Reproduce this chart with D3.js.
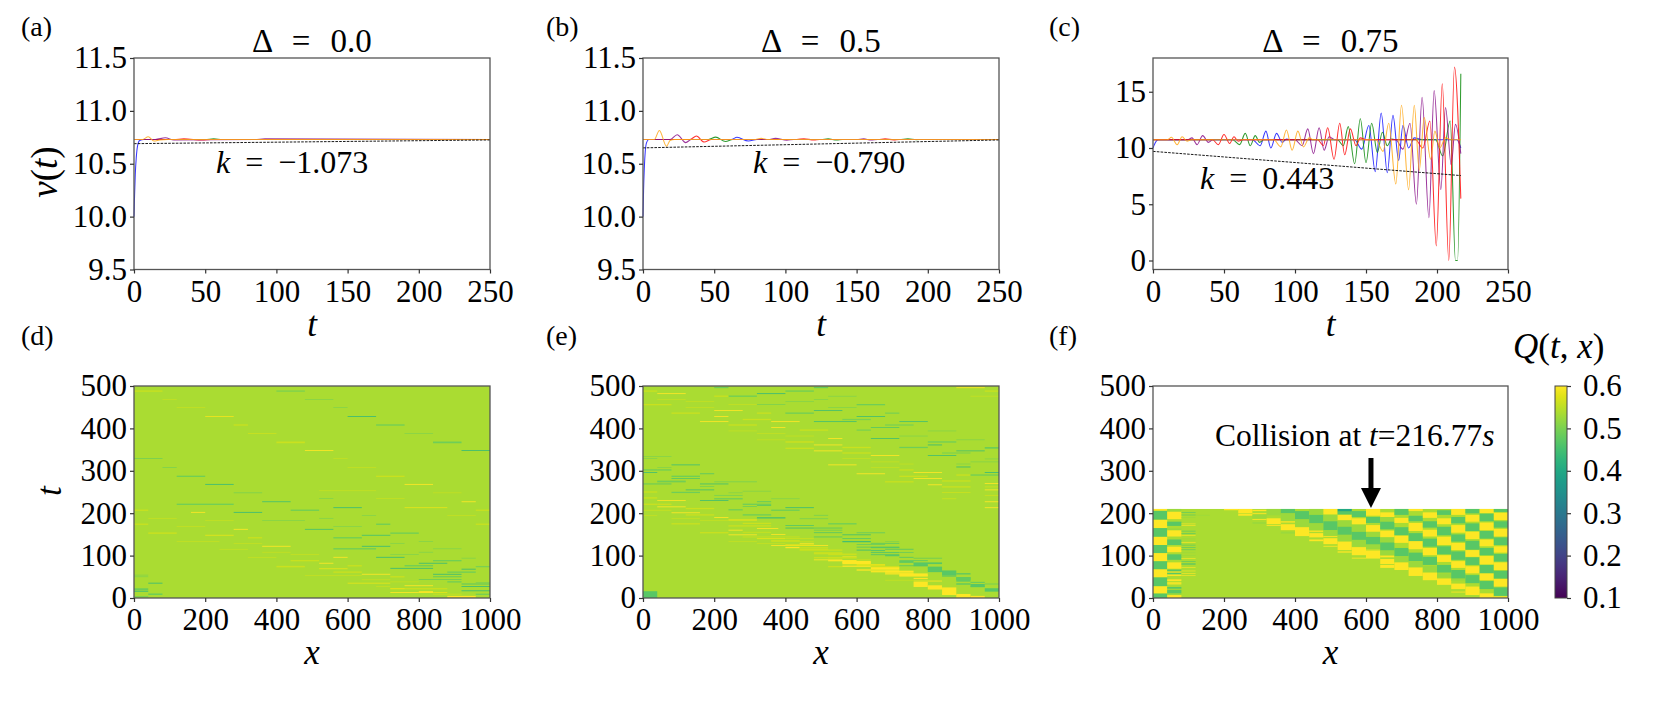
<!DOCTYPE html>
<html><head><meta charset="utf-8">
<script src="https://d3js.org/d3.v7.min.js"></script>
<style>
html,body{margin:0;padding:0;background:#fff}
svg{display:block}
text{font-family:"Liberation Serif",serif;fill:#000}
.axis path,.axis line{stroke:#333;stroke-width:1.2}
.axis text{font-family:"Liberation Serif",serif;font-size:31px;fill:#000}
</style></head><body><div id="c"></div>
<script>
// ---------- data ----------
const vTicksAB=[9.5,10,10.5,11,11.5];
const vTicksC=[0,5,10,15];
const tTicks=[0,50,100,150,200,250];
const heatXTicks=[0,200,400,600,800,1000];
const heatYTicks=[0,100,200,300,400,500];
const qTicks=[0.1,0.2,0.3,0.4,0.5,0.6];
const vColors={blue:"#1515ff",green:"#0a8a0a",red:"#ff0d0d",purple:"#8a108a",orange:"#ffa818"};

const aBlue=[[0,10],[0.4,10.2],[0.9,10.4],[1.6,10.56],[2.5,10.67],[4,10.72],[7,10.73],[250,10.73]];
const aGreen=[[0,10.73],[50,10.73],[56,10.735],[62,10.73],[250,10.73]];
const aRed=[[0,10.73],[28,10.73],[35,10.735],[48,10.725],[54,10.73],[250,10.73]];
const aPurple=[[0,10.73],[15,10.73],[22,10.745],[28,10.725],[85,10.73],[92,10.735],[250,10.73]];
const aOrange=[[0,10.73],[6,10.73],[10,10.755],[14,10.715],[18,10.725],[24,10.73],[250,10.73]];
const aFit=[[0,10.69],[250,10.725]];

const bBlue=[[0,10],[0.4,10.25],[0.9,10.45],[1.6,10.62],[2.5,10.7],[4,10.73],[62,10.73],[66,10.75],[74,10.715],[80,10.73],[250,10.73]];
const bGreen=[[0,10.73],[46,10.73],[51,10.752],[58,10.71],[63,10.73],[125,10.73],[130,10.735],[136,10.725],[140,10.73],[180,10.73],[186,10.735],[192,10.727],[196,10.73],[250,10.73]];
const bRed=[[0,10.73],[33,10.73],[37.5,10.762],[43,10.705],[48,10.73],[108,10.73],[113,10.737],[120,10.724],[124,10.73],[165,10.73],[170,10.735],[176,10.726],[180,10.73],[250,10.73]];
const bPurple=[[0,10.73],[19,10.73],[24,10.775],[30,10.7],[34,10.73],[88,10.73],[93,10.74],[101,10.722],[106,10.73],[150,10.73],[155,10.735],[160,10.725],[165,10.73],[250,10.73]];
const bOrange=[[0,10.73],[8,10.73],[11.5,10.815],[16.5,10.665],[19,10.72],[22,10.73],[78,10.73],[83,10.74],[88,10.73],[250,10.73]];
const bFit=[[0,10.65],[250,10.725]];

const cBlue=[[0,10],[1,10.3],[2,10.55],[3.5,10.73],[70,10.73],[75.5,10.2],[79.5,11.5],[83,10],[87,11.3],[91,10.5],[94,10.8],[98,10.73],[142,10.73],[147,9.9],[152,12],[156.5,7.9],[160.7,13.1],[165,7.8],[169,12.9],[173,8.9],[176,12],[180,10],[184,10.9],[190,10.73],[214,10.73],[216.77,10]];
const cGreen=[[0,10.73],[56,10.73],[61,10.3],[65,11.3],[68.5,10.2],[72,11.1],[75,10.5],[78,10.73],[130,10.73],[134,10.2],[137.5,11.9],[142,8.6],[146,12.6],[150,8.7],[154,12.2],[158,9.6],[161.5,11.4],[165,10.2],[168,10.8],[172,10.73],[199,10.73],[204,9.3],[209.3,12.4],[213,0],[214.5,0],[216.77,16.6]];
const cRed=[[0,10.73],[42,10.73],[46,10.3],[50,11.2],[54,10.4],[57,11],[60,10.6],[63,10.73],[116,10.73],[120,10.2],[123,11.8],[127.5,9],[131.5,12.2],[135,9.4],[139,11.7],[143,10.2],[146,10.9],[150,10.73],[185,10.73],[190,10],[195,12.4],[199.5,1.3],[203.7,15.7],[208.3,0],[212.3,17.2],[216.77,5.5]];
const cPurple=[[0,10.73],[24,10.73],[27.5,10.9],[31,10.3],[35,11.1],[39,10.5],[42,10.73],[100,10.73],[105,10.2],[109,11.7],[113,9.5],[117,11.8],[120.5,9.8],[124,11],[128,10.73],[171,10.73],[176,9.9],[181,12.2],[185.5,5],[189.5,14.5],[194.3,3.8],[198,15.1],[202.7,6.3],[206,13.6],[210,8.5],[213,12.1],[216.77,9.5]];
const cOrange=[[0,10.73],[10,10.73],[13,10.95],[17,10.3],[20.5,11],[24,10.6],[27,10.73],[85,10.73],[90,10.1],[94,11.6],[98,9.8],[102,11.5],[106,10.1],[110,10.9],[113,10.73],[157,10.73],[162,9.7],[166,12.2],[171,6.8],[175,13.8],[180,6.3],[184,13.8],[187.5,8],[191,12.7],[195.5,9],[198.5,11.5],[202,10],[206,10.9],[210,10.73],[216.77,10.73]];
const cFit=[[0,9.7],[216.77,7.55]];

const heatBase=0.537;
// streaks: [xStart, xEnd, t, thickness, Q]
const streaksD=[
[0,80,488,3,.56],[400,480,488,3,.5],[80,120,468,1.5,.56],[480,560,468,1.5,.5],[120,200,449,1.5,.56],[560,600,449,1.5,.5],
[200,280,428,2,.59],[600,680,428,2,.44],[280,320,408,3,.56],[680,760,408,3,.49],[320,400,388,2,.56],[760,840,388,1.5,.5],
[400,480,367,4,.56],[840,920,367,4,.49],[480,560,348,2,.6],[920,1000,348,2,.44],[0,80,329,1.5,.48],[560,600,329,1.5,.56],
[80,120,308,1.5,.49],[600,680,308,1.5,.56],[120,200,287,3,.49],[680,760,287,3,.56],[200,280,268,2,.44],[760,840,268,2,.6],
[520,680,253,1.5,.56],[280,360,248,1.5,.49],[840,920,248,1.5,.56],[520,560,235,1.5,.5],[680,760,235,1.5,.56],[360,440,227,2,.45],
[920,960,227,2,.6],[120,280,221,3,.49],[560,640,213,2,.44],[760,880,213,2,.58],[0,40,207,3,.56],[440,520,207,3,.49],[960,1000,207,3,.56],
[160,200,202,2,.6],[280,360,202,2,.44],[640,680,195,1.5,.5],[880,960,195,1.5,.56],[40,120,188,1.5,.56],[520,560,188,1.5,.5],
[200,280,183,1.5,.56],[360,480,183,1.5,.5],[0,40,174,3,.56],[680,720,174,3,.49],[960,1000,174,3,.56],[120,200,169,1.5,.56],[560,640,169,1.5,.5],
[280,320,162,2,.6],[480,560,162,2,.45],[40,120,153,3.5,.56],[720,800,153,3,.49],[200,280,148,2,.58],[640,720,148,2,.45],
[320,360,142,3,.56],[560,640,142,3,.49],[120,240,133,1.5,.56],[800,840,133,1.5,.5],[280,360,129,1.5,.56],[720,760,129,1.5,.5],
[360,440,122,2,.6],[640,720,122,2,.44],[560,680,116,3,.49],[840,920,116,1.5,.5],[240,320,115,1.5,.56],[360,440,108,1.5,.56],[800,840,108,1.5,.5],
[440,520,103,1.5,.56],[720,800,103,1.5,.5],[320,400,96,1.5,.56],[560,600,96,2,.6],[680,760,96,2,.44],[920,960,94,1.5,.5],[440,520,88,3,.56],[840,920,88,3,.49],
[520,560,82,2,.6],[800,880,82,2,.44],[400,480,74,3.5,.56],[600,640,76,3,.56],[760,840,76,3,.49],[960,1000,74,3,.5],[520,600,69,2,.58],[720,840,70,2,.44],[920,960,68,2,.44],
[560,640,61,3,.56],[880,960,61,3,.49],[640,720,56,2,.6],[840,920,56,2,.44],[480,640,53,1.5,.56],[0,40,50,1.5,.5],[720,760,50,3,.56],[840,920,50,2,.47],[0,40,54,1.5,.5],
[640,720,43,1.5,.56],[800,840,44,1.5,.47],[840,920,44,1.5,.47],[720,800,38,1.5,.56],[880,920,38,3,.49],[40,80,35,2,.44],[600,720,35,2,.58],[960,1000,36,1.5,.49],
[680,720,27,1.5,.56],[760,840,29,2,.6],[920,1000,27,2,.44],[0,40,21,3,.47],[720,880,22,3,.56],[0,40,16,3,.46],[920,1000,17,2,.44],
[720,800,13,2,.6],[800,840,14,4,.6],[840,880,13,2,.58],[40,80,9,3,.48],[840,920,9,2,.56],[960,1000,9,2,.47],[880,960,3,4,.6],[0,40,3,3,.5],[720,760,22,2,.58],[920,1000,33,2,.46]
];
const streaksE=[
[200,240,496,2,.47],[880,960,496,2,.6],[480,520,496,2,.46],[0,40,488,3,.56],[400,480,488,3,.49],[960,1000,488,3,.56],[40,120,482,2,.6],[320,400,482,2,.44],
[240,320,476,3,.49],[200,240,476,3,.56],[520,600,476,1.5,.5],[920,1000,476,1.5,.56],[40,120,468,1.5,.56],[480,520,468,1.5,.5],[120,200,463,1.5,.56],[400,480,463,1.5,.5],
[0,80,456,3,.56],[240,320,456,1.5,.56],[320,400,456,1.5,.49],[600,680,456,3,.49],[120,200,449,1.5,.56],[520,600,449,1.5,.5],[200,280,442,2,.6],[480,560,442,2,.45],
[80,160,436,3,.56],[320,360,436,3,.56],[400,480,436,3,.49],[680,720,436,3,.5],[200,240,428,2,.6],[600,680,428,2,.45],[280,360,421,3,.56],[560,640,421,3,.5],
[160,240,416,2,.6],[360,440,416,2,.6],[480,600,416,2,.45],[720,800,416,2,.45],[240,320,408,3,.56],[680,760,408,3,.5],[360,400,402,2,.6],[640,720,402,2,.47],
[440,520,396,3,.56],[600,640,396,3,.5],[240,320,394,1.5,.56],[800,880,394,1.5,.5],[320,400,388,1.5,.56],[400,480,382,1.5,.56],[720,800,382,1.5,.5],
[520,560,376,2,.6],[640,720,376,2,.45],[320,400,373,1.5,.56],[880,960,373,1.5,.5],[400,480,368,3.5,.56],[800,880,368,3,.49],[480,560,361,2,.6],[800,840,361,2,.44],
[560,640,355,3,.56],[720,800,355,3,.49],[960,1000,354,3,.47],[400,480,353,3,.56],[480,560,347,2,.6],[880,960,347,2,.45],[560,640,342,3,.56],[840,920,342,2,.49],
[640,720,336,2,.6],[800,880,336,2,.45],[0,80,334,1.5,.5],[0,40,329,1.5,.5],[560,640,329,1.5,.56],[960,1000,328,1.5,.5],[920,1000,321,1.5,.5],[640,720,321,1.5,.56],
[80,160,314,2,.45],[520,600,314,2,.6],[720,760,316,1.5,.56],[880,920,316,1.5,.5],[40,80,308,1.5,.5],[880,920,309,2,.44],[640,720,308,1.5,.56],[0,40,302,3,.49],[40,80,302,3,.49],[720,760,302,3,.56],
[0,40,296,2,.45],[160,200,293,2,.47],[600,680,293,2,.6],[960,1000,296,2,.44],[760,840,296,2,.6],[880,920,290,3,.56],[920,1000,290,3,.49],[80,160,287,3,.49],[720,800,287,3,.56],
[80,160,282,2,.47],[760,840,282,2,.6],[40,120,276,2,.5],[840,920,276,3,.56],[40,120,274,2,.47],[200,320,274,2,.5],[680,760,274,3,.56],[0,80,269,2,.47],[160,240,269,2,.45],[960,1000,270,2,.6],
[800,840,267,2,.6],[160,200,263,2,.5],[840,920,262,3,.56],[960,1000,262,2,.56],[120,200,255,2,.45],[960,1000,255,2,.6],[280,360,252,1.5,.5],[0,40,250,3,.56],[80,160,249,3,.49],[840,920,249,2,.56],[240,280,248,1.5,.5],
[200,280,242,2,.5],[960,1000,242,2,.56],[0,40,236,3,.56],[200,280,234,3,.49],[840,880,234,2,.56],[360,440,234,1.5,.5],[40,120,230,2,.6],[160,240,230,2,.45],[960,1000,227,2,.6],[320,360,227,2,.47],
[0,40,221,3,.56],[40,80,221,3,.56],[280,360,221,3,.49],[40,120,215,2,.6],[280,320,216,2,.49],[320,360,218,2,.47],[400,480,213,2,.44],[960,1000,213,2,.6],[120,200,211,3,.56],[0,80,207,2,.56],[240,280,208,3,.49],[360,440,207,3,.49],
[80,160,201,2,.6],[0,40,195,1.5,.56],[120,200,196,3,.56],[480,520,195,2,.5],[280,360,196,3,.49],[200,240,190,2,.6],[320,400,189,3,.45],[80,160,187,1.5,.56],[440,520,187,2,.5],[160,240,183,1.5,.56],[240,320,184,3,.58],
[80,160,175,3,.56],[280,360,176,3,.56],[520,600,175,3,.49],[400,480,171,2,.47],[240,360,170,3,.56],[320,380,164,2,.6],[400,480,165,2,.45],[480,560,165,2,.47],[240,280,160,2,.6],[480,560,160,2,.49],
[160,240,154,3,.56],[280,360,155,2,.56],[480,560,154,2,.47],[600,680,154,3,.5],[240,320,149,2,.6],[360,400,150,2,.6],[560,640,149,2,.45],[280,400,144,2,.56],[400,440,144,2,.56],[480,560,144,2,.47],[320,400,140,2,.58],[400,480,140,2,.56],[560,640,140,2,.47],
[240,320,133,1.5,.56],[360,480,133,1.5,.56],[560,640,133,3,.45],[680,720,133,1.5,.5],[320,400,129,1.5,.56],[440,480,129,2,.6],[640,720,129,2,.47],[360,440,124,2,.6],[440,520,124,2,.6],[400,440,119,3,.6],[640,720,119,3,.47],[440,520,119,2,.56],[600,640,113,2,.44],
[440,560,113,3,.56],[480,560,107,2,.56],[640,720,107,2,.46],[720,760,107,1.5,.47],[520,600,103,4,.56],[640,720,102,2,.46],[480,560,95,3,.56],[560,600,97,2,.6],[720,760,96,2,.47],
[480,560,90,2,.6],[520,600,88,3,.6],[600,640,90,2,.56],[720,800,88,2,.47],[560,640,82,5,.6],[760,840,82,4,.47],[520,560,74,3,.56],[560,640,75,3,.6],[640,720,73,3,.58],[800,840,72,4,.47],
[600,680,66,3,.6],[680,720,66,3,.6],[640,720,62,3,.6],[800,880,63,4,.47],[680,760,57,3,.6],[880,920,57,3,.47],[720,800,52,3,.6],[840,880,52,3,.47],[760,800,46,3,.6],[880,920,46,6,.47],[680,760,42,1.5,.56],[760,840,40,2,.6],
[760,800,32,12,.6],[800,840,25,10,.6],[840,880,16,18,.6],[880,920,5,9,.6],[920,960,2.5,5,.6],[920,960,37,2,.47],[960,1000,33,2,.49],[920,960,27,3,.47],[960,1000,19,8,.47],[0,40,8,16,.47],
[720,800,55,6,.6],[680,760,62,5,.6],[640,720,70,5,.6],[600,680,78,4,.58],[560,640,85,5,.6],[520,600,95,4,.56],[480,560,105,4,.56],[440,520,115,4,.56],[400,480,125,3,.58],[360,440,135,3,.56],
[920,960,30,6,.47],[880,920,44,11,.48],[840,880,58,8,.47],[800,840,68,8,.47],[760,800,78,6,.47],[720,760,85,4,.47],[680,720,100,3,.47],[640,680,112,3,.47],
[600,720,120,2,.47],[600,680,126,1.5,.47],[680,760,115,2,.47],[720,800,76,2,.47],[760,840,94,1.5,.47],[880,920,33,3,.47]
];
const Y=0.6,G=0.47,L=0.525,T=0.4;
// panel (f), one list per 40-wide column: [tStart, tEnd, Q]
const fColumns=[
[[0,11,G],[11,28,Y],[28,49,G],[49,68,Y],[68,87,G],[87,106,Y],[106,125,G],[125,144.6,Y],[144.6,165,G],[165,185,Y],[185,206,G],[206,210,Y]],
[[0,7,Y],[7,11,L],[11,19,G],[19,22,L],[22,26,G],[32,35,Y],[36,38,Y],[40,44,Y],[52,56,Y],[56,60,G],[60,63,Y],[63,67,G],[69,84,Y],[90,103,G],[108,121,Y],[125,138,G],[145,160,Y],[160,164,L],[170,180,G],[186,204,Y],[204,210,L]],
[[52,53.5,Y],[57,58.5,Y],[63,64.5,Y],[71,72.5,Y],[78,79.5,G],[81,82.5,G],[85,86.5,G],[92,93.5,Y],[100,101.5,L],[106,107.5,L],[113,114.5,G],[118,119.5,G],[124,125.5,G],[130,131.5,Y],[136,137.5,L],[139,140.5,L],[147,148.5,Y],[151,152.5,G],[157,158.5,G],[170,171.5,Y],[174,175.5,Y],[189,190.5,L],[195,196.5,G],[201,202.5,G]],
[[194.5,196,L]],
[],
[[207,210,Y]],
[[199.5,210,Y],[194,198,Y]],
[[205,208,Y],[198,200,Y],[188,196,L],[184,186,Y],[175,179,L]],
[[174,188,Y],[170,172,Y],[195,210,L]],
[[199.6,210,G],[181,199.6,L],[178,181,Y],[160,174,Y],[152,156.4,L]],
[[185.5,205,G],[168,185.5,L],[146,167,Y]],
[[196,210,L],[176,196,G],[160,176,L],[156,159,Y],[143,153,Y],[134,138,Y]],
[[197,210,Y],[181,196,L],[160,181,G],[147,160,L],[144,146,Y],[127,141,Y],[121,123,Y]],
[[203.6,210,T],[197,203.6,G],[183,196,Y],[168,183,L],[149,168,G],[134,149,L],[113,133,Y],[107,110,Y]],
[[191,205,G],[174,188,Y],[156,172,L],[137,156,G],[121,137,L],[101,120,Y],[93,95,Y]],
[[194,210,Y],[177,191,G],[156,172,Y],[144,156,L],[126,144,G],[113,126,L],[93,111,Y],[112,114,Y]],
[[191,202,Y],[180,191,L],[162,180,G],[143,159,Y],[131,143,L],[112,131,G],[101,112,L],[96,100,Y],[80,92,Y],[71,78,Y]],
[[196,210,G],[177,189,Y],[148,167,G],[130,147,Y],[99,118,G],[84,99,L],[66,84,Y]],
[[205,210,Y],[181,194,G],[158,177,Y],[134,153,G],[115,134,Y],[87,107,G],[73,87,L],[52,72,Y]],
[[189,202,Y],[166,181,G],[145,161,Y],[121,140,G],[101,118,Y],[78,97,G],[60,76,L],[42,60,Y]],
[[196,207,G],[174,188,Y],[148,168,G],[125,144.6,Y],[103,122,G],[85,101,Y],[60,78,G],[48,58,L],[31,46,Y]],
[[196,210,Y],[176,191,G],[154,172,Y],[133,150,G],[113,130,Y],[90,110,G],[71,87,Y],[46,66,G],[41,45,L],[21,34,Y],[13,15,Y]],
[[199.6,210,G],[180,196,Y],[158,176,G],[139,156.4,Y],[114,135,G],[97,113,Y],[78,96,G],[58,75,Y],[35,54,G],[7,27,Y]],
[[200,210,Y],[181,199,G],[160,178,Y],[140,158,G],[122,138,Y],[101,118,G],[79,99,Y],[58,78,G],[42,58,Y],[21,40,G],[0,11,Y]],
[[203,210,G],[184,201,Y],[166,181,G],[145,163,Y],[125,143,G],[107,122,Y],[86,104,G],[66,84,Y],[46,64,G],[27,45,Y],[5,25,G],[0,4,Y]]
];

// ---------- layout ----------
const W=1661,H=702;
const svg=d3.select("#c").append("svg").attr("width",W).attr("height",H);
const rows={top:[58,269.5],bot:[386,598]};
const cols=[[134,490],[643,999],[1153,1508]];
const q=d3.scaleSequential(d3.interpolateViridis).domain([0.1,0.6]);
function drawFrame(g,x0,x1,y0,y1){
  g.append("rect").attr("x",x0).attr("y",y0).attr("width",x1-x0).attr("height",y1-y0)
   .attr("fill","none").attr("stroke","#555").attr("stroke-width",1.3);
}
function axes(g,x,y,xt,yt,y1,x0){
  const ax=g.append("g").attr("class","axis").attr("transform",`translate(0,${y1})`)
    .call(d3.axisBottom(x).tickValues(xt).tickSize(4).tickPadding(6).tickFormat(d3.format("d")));
  ax.select(".domain").remove();
  const ay=g.append("g").attr("class","axis").attr("transform",`translate(${x0},0)`)
    .call(d3.axisLeft(y).tickValues(yt).tickSize(4).tickPadding(3).tickFormat(yt[0]===9.5?d3.format(".1f"):d3.format("d")));
  ay.select(".domain").remove();
}
const lineGen=(x,y)=>d3.line().x(d=>x(d[0])).y(d=>y(d[1])).curve(d3.curveMonotoneX);
function mathLabel(x,y,parts,size,anchor,rot,wordGap){
  const t=svg.append("text").attr("x",x).attr("y",y).attr("font-size",size).attr("text-anchor",anchor||"middle");
  if(rot) t.attr("transform",`rotate(-90 ${x} ${y})`);
  if(wordGap) t.attr("word-spacing",wordGap);
  parts.forEach(p=>t.append("tspan").attr("font-style",p[1]?"italic":"normal").text(p[0]));
}
function linePanel(col,dom,ticks,series,fit){
  const [x0,x1]=cols[col],[y0,y1]=rows.top;
  const x=d3.scaleLinear().domain([0,250]).range([x0,x1]);
  const y=d3.scaleLinear().domain(dom).range([y1,y0]);
  const g=svg.append("g");
  const l=lineGen(x,y);
  series.forEach(s=>g.append("path").attr("d",l(s[0])).attr("fill","none").attr("stroke",s[1]).attr("stroke-width",1.05).attr("stroke-opacity",.85));
  g.append("path").attr("d",d3.line().x(d=>x(d[0])).y(d=>y(d[1]))(fit)).attr("fill","none").attr("stroke","#000").attr("stroke-width",.9).attr("stroke-dasharray","2.6,1.2");
  drawFrame(g,x0,x1,y0,y1);
  axes(g,x,y,tTicks,ticks,y1,x0);
}
function heatPanel(col,tMax,streaks,columns){
  const [x0,x1]=cols[col],[y0,y1]=rows.bot;
  const x=d3.scaleLinear().domain([0,1000]).range([x0,x1]);
  const y=d3.scaleLinear().domain([0,500]).range([y1,y0]);
  const g=svg.append("g");
  g.append("rect").attr("x",x(0)).attr("y",y(tMax)).attr("width",x(1000)-x(0)).attr("height",y(0)-y(tMax)).attr("fill",q(heatBase));
  g.selectAll("rect.s").data(streaks).join("rect").attr("class","s")
    .attr("x",d=>x(d[0])).attr("width",d=>x(d[1])-x(d[0]))
    .attr("y",d=>y(d[2]+d[3]/2)).attr("height",d=>y(d[2]-d[3]/2)-y(d[2]+d[3]/2)).attr("fill",d=>q(d[4]));
  if(columns) columns.forEach((c,i)=>{
    g.selectAll(null).data(c).join("rect")
     .attr("x",x(i*40)).attr("width",x(40)-x(0))
     .attr("y",d=>y(d[1])).attr("height",d=>y(d[0])-y(d[1])).attr("fill",d=>q(d[2]));
  });
  drawFrame(g,x0,x1,y0,y1);
  axes(g,x,y,heatXTicks,heatYTicks,y1,x0);
  return {x,y};
}
// ---------- panels ----------
linePanel(0,[9.5,11.5],vTicksAB,[[aBlue,vColors.blue],[aGreen,vColors.green],[aRed,vColors.red],[aPurple,vColors.purple],[aOrange,vColors.orange]],aFit);
linePanel(1,[9.5,11.5],vTicksAB,[[bBlue,vColors.blue],[bGreen,vColors.green],[bRed,vColors.red],[bPurple,vColors.purple],[bOrange,vColors.orange]],bFit);
linePanel(2,[-0.8,18],vTicksC,[[cBlue,vColors.blue],[cGreen,vColors.green],[cPurple,vColors.purple],[cRed,vColors.red],[cOrange,vColors.orange]],cFit);
heatPanel(0,500,streaksD);
heatPanel(1,500,streaksE);
const fPanel=heatPanel(2,210,[],fColumns);

// arrow in (f)
const arrowX=fPanel.x(614),arrowTop=fPanel.y(330),arrowTip=fPanel.y(212);
const arrow=d3.path();
arrow.moveTo(arrowX-2.5,arrowTop);arrow.lineTo(arrowX+2.5,arrowTop);arrow.lineTo(arrowX+2.5,arrowTip-20);arrow.lineTo(arrowX+10,arrowTip-20);
arrow.lineTo(arrowX,arrowTip);arrow.lineTo(arrowX-10,arrowTip-20);arrow.lineTo(arrowX-2.5,arrowTip-20);arrow.closePath();
svg.append("path").attr("d",arrow.toString()).attr("fill","#000");

// colour bar
const cbX=1555,cbW=12,cb=d3.scaleLinear().domain([0.1,0.6]).range([598,386]);
const grad=svg.append("defs").append("linearGradient").attr("id","vir").attr("x1",0).attr("y1",1).attr("x2",0).attr("y2",0);
d3.range(0,1.001,0.05).forEach(s=>grad.append("stop").attr("offset",s).attr("stop-color",d3.interpolateViridis(s)));
svg.append("rect").attr("x",cbX).attr("y",386).attr("width",cbW).attr("height",212).attr("fill","url(#vir)");
const cbAxis=svg.append("g").attr("class","axis").attr("transform",`translate(${cbX+cbW},0)`)
  .call(d3.axisRight(cb).tickValues(qTicks).tickSize(4).tickPadding(12).tickFormat(d3.format(".1f")));
cbAxis.select(".domain").remove();
svg.append("rect").attr("x",cbX).attr("y",386).attr("width",cbW).attr("height",212).attr("fill","none").attr("stroke","#444").attr("stroke-width",1);

// ---------- text ----------
[["(a)",21,36],["(b)",546,36],["(c)",1049,36],["(d)",21,345],["(e)",546,345],["(f)",1049,345]].forEach(d=>{
  svg.append("text").attr("x",d[1]).attr("y",d[2]).attr("font-size",28).text(d[0]);
});
[["Δ = 0.0",0],["Δ = 0.5",1],["Δ = 0.75",2]].forEach(d=>{
  const c=cols[d[1]];
  mathLabel((c[0]+c[1])/2,52,[[d[0],0]],33,"middle",false,12);
  mathLabel((c[0]+c[1])/2,336,[["t",1]],35);
  mathLabel((c[0]+c[1])/2,664,[["x",1]],35);
});
mathLabel(57,172,[["v",1],["(",0],["t",1],[")",0]],37,"middle",true);
mathLabel(61,491,[["t",1]],35,"middle",true);
mathLabel(216,173,[["k",1],[" = −1.073",0]],32,"start",false,7);
mathLabel(753,173,[["k",1],[" = −0.790",0]],32,"start",false,7);
mathLabel(1200,189,[["k",1],[" = 0.443",0]],32,"start",false,7);
mathLabel(1215,446,[["Collision at ",0],["t",1],["=216.77",0],["s",1]],31.5,"start");
mathLabel(1513,358,[["Q",1],["(",0],["t",1],[", ",0],["x",1],[")",0]],35,"start");
</script></body></html>
